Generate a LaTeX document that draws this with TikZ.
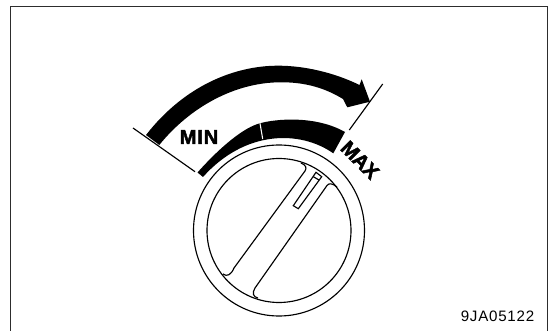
\documentclass[tikz,border=0pt]{standalone}
\usepackage{fontspec}
\usepackage{tikz}
\setmainfont{Liberation Sans}
\newfontfamily\lblfont[LetterSpace=4,FakeBold=2.2]{Liberation Sans Bold}
\newfontfamily\maxfont[LetterSpace=-2,FakeBold=2.2]{Liberation Sans Bold}
\newfontfamily\codefont[LetterSpace=5]{Liberation Sans}
\usetikzlibrary{calc}
\definecolor{clrFrame}{RGB}{45,45,45}

\begin{document}
\begin{tikzpicture}[
  x=0.02cm, y=-0.02cm,
  frameline/.style={draw=clrFrame, line width=0.85pt},
  dialline/.style={draw=black, line width=0.65pt},
  tickline/.style={draw=black, line width=0.65pt},
  solidband/.style={fill=black, draw=none},
  lbl/.style={font=\lblfont\fontsize{11.5}{12}\selectfont, inner sep=0pt},
  maxlbl/.style={font=\maxfont\fontsize{11.5}{12}\selectfont, inner sep=0pt},
  codelbl/.style={font=\codefont\fontsize{8.6}{10}\selectfont, inner sep=0pt}
]
\useasboundingbox (0,0) rectangle (552,331);

% Frame
\draw[frameline] (10.5,331) -- (10.5,6.5) -- (547.5,6.5) -- (547.5,331);

% Big arrow
\fill[solidband] (146,135) .. controls (185,85) and (235,66) .. (277,65.7)
  .. controls (305,65.5) and (335,73) .. (359.5,85)
  -- (361.7,79.3) -- (370,101.7) -- (347.3,107.3) -- (343,99)
  .. controls (325,88) and (305,82) .. (280,82.3)
  .. controls (235,82.5) and (190,107) .. (159.3,145) -- cycle;

% Limit ticks
\draw[tickline] (133,128) -- (195,171.7);
\draw[tickline] (382.7,84) -- (349.3,130);

% Scale band
\coordinate (dial) at (279,230.5);
\fill[solidband] (197.5,172.5) .. controls (222,145) and (245,127) .. (260,123.3)
  .. controls (275,119) and (315,115) .. (345,132)
  -- (333.3,153.3)
  .. controls (300,130) and (245,130) .. (203,177) -- cycle;
\draw[white, line width=0.6pt] (260,123.3) -- (262.7,139);

% Dial
\draw[dialline] (dial) circle[radius=85.5];
\draw[dialline] (dial) circle[radius=72];

% Grip
\draw[dialline] (301,163) .. controls (306,165) and (307,168) .. (305,171)
  -- (234,268) .. controls (231,275) and (227,277) .. (223,274);
\draw[dialline] (337,187) .. controls (332,183) and (329,183) .. (327,185.5)
  -- (255,288) .. controls (252,293) and (253,297) .. (258,298);
\draw[dialline] (293.3,205.7) -- (316,172.3) -- (321.7,176.7) -- (298.3,208.7) -- cycle;
\draw[dialline] (313.3,176.7) -- (319,180);

% Labels
\node[lbl] (minlabel) at (199,137) {MIN};
\node[maxlbl, rotate=-45] (maxlabel) at (360,160) {MAX};
\node[codelbl] (partcode) at (497.5,316) {9JA05122};

\end{tikzpicture}
\end{document}
